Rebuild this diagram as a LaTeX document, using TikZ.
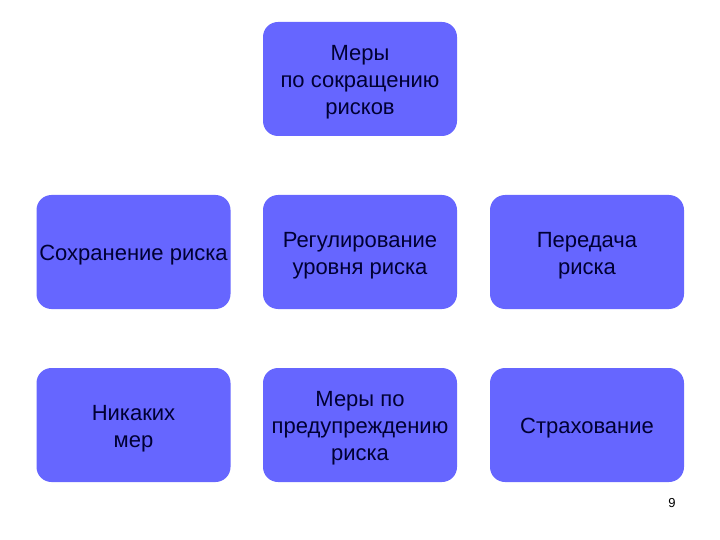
\documentclass[tikz,border=0pt]{standalone}
\usepackage{fontspec}
\setmainfont{Liberation Sans}
\definecolor{boxfill}{HTML}{6666FF}
\definecolor{boxtext}{HTML}{000033}
\begin{document}
\begin{tikzpicture}[x=1pt,y=-1pt,
  rbox/.style={fill=boxfill, draw=none, rounded corners=15pt, minimum width=194pt, minimum height=114pt,
    inner sep=0pt},
  rtext/.style={text=boxtext, align=center, inner sep=0pt, yshift=-3.5pt, font=\fontsize{22}{27}\selectfont}]
\useasboundingbox (0,0) rectangle (720,540);
\node[rbox] (top) at (360,79) {};
\node[rtext] (toptext) at (top.center) {Меры\\по сокращению\\рисков};
\node[rbox] (keep) at (133.5,252) {};
\node[rtext] (keeptext) at (keep.center) {Сохранение риска};
\node[rbox] (reg) at (360,252) {};
\node[rtext] (regtext) at (reg.center) {Регулирование\\уровня риска};
\node[rbox] (trans) at (587,252) {};
\node[rtext] (transtext) at (trans.center) {Передача\\риска};
\node[rbox] (none) at (133.5,425) {};
\node[rtext] (nonetext) at (none.center) {Никаких\\мер};
\node[rbox] (prev) at (360,425) {};
\node[rtext] (prevtext) at (prev.center) {Меры по\\предупреждению\\риска};
\node[rbox] (ins) at (587,425) {};
\node[rtext] (instext) at (ins.center) {Страхование};
\node[font=\fontsize{13}{15}\selectfont, text=black] (num) at (672,503) {9};
\end{tikzpicture}
\end{document}
